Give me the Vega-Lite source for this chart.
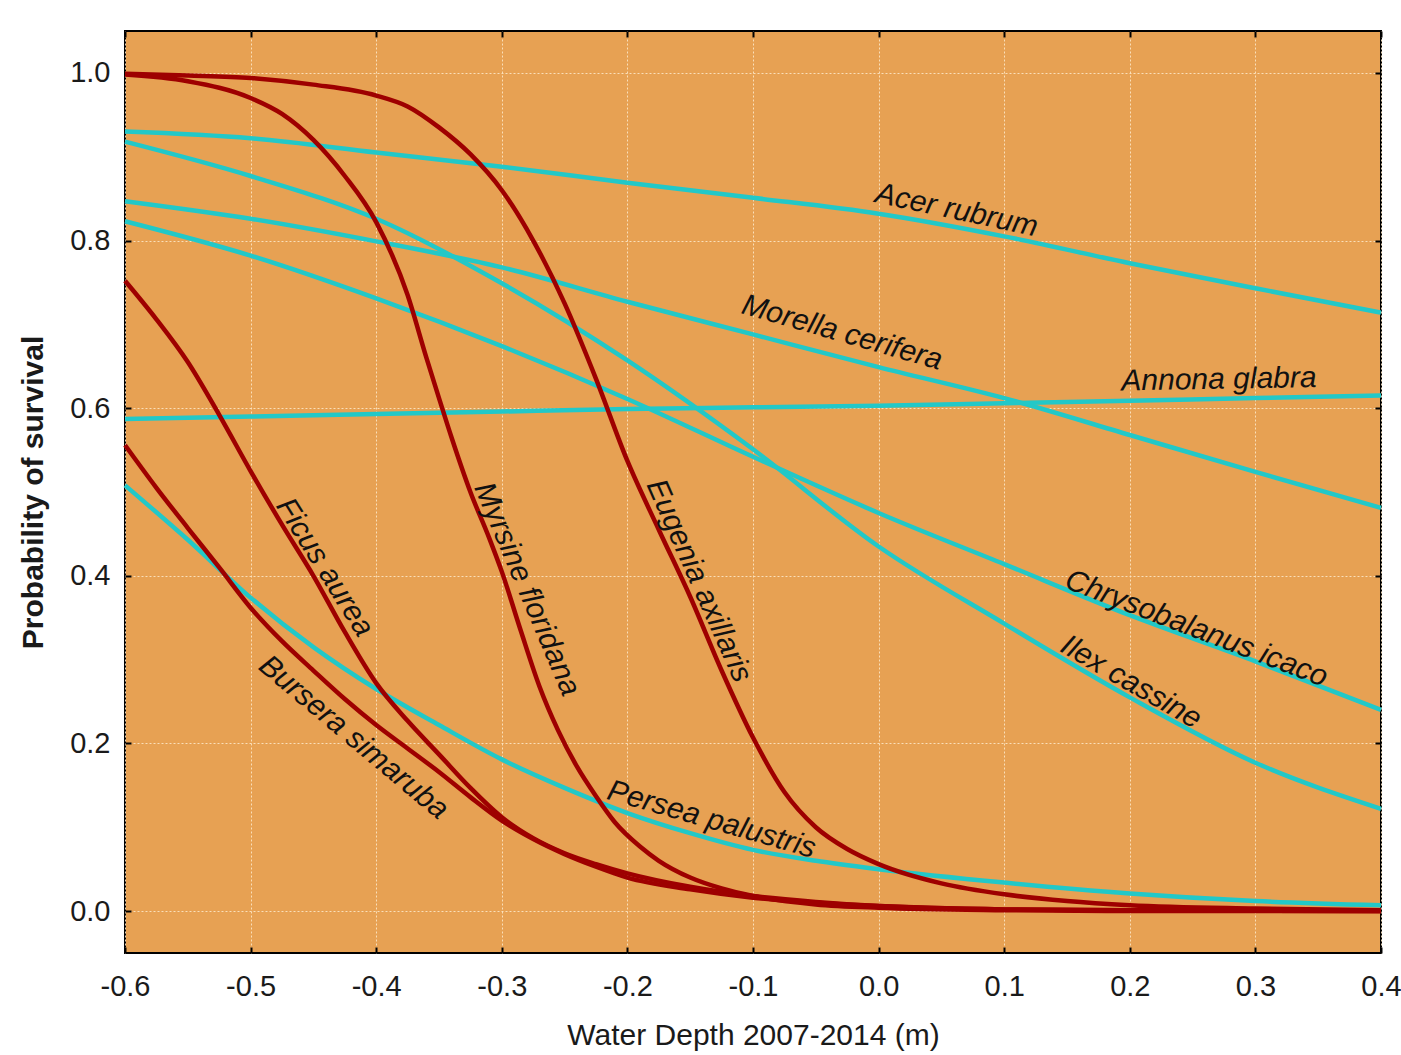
{
  "$schema": "https://vega.github.io/schema/vega-lite/v6.json",
  "width": 1256,
  "height": 922,
  "autosize": "none",
  "padding": {"left": 125, "top": 31, "right": 20, "bottom": 102},
  "background": "white",
  "config": {
    "view": {"fill": "#E7A153", "stroke": "#000000", "strokeWidth": 2},
    "font": "Liberation Sans"
  },
  "datasets": {
    "curves": [
      {"species": "Acer rubrum", "depth": -0.6, "p": 0.930},
      {"species": "Acer rubrum", "depth": -0.5, "p": 0.922},
      {"species": "Acer rubrum", "depth": -0.4, "p": 0.905},
      {"species": "Acer rubrum", "depth": -0.3, "p": 0.888},
      {"species": "Acer rubrum", "depth": -0.2, "p": 0.869},
      {"species": "Acer rubrum", "depth": -0.1, "p": 0.851},
      {"species": "Acer rubrum", "depth": 0.0, "p": 0.832},
      {"species": "Acer rubrum", "depth": 0.1, "p": 0.805},
      {"species": "Acer rubrum", "depth": 0.2, "p": 0.773},
      {"species": "Acer rubrum", "depth": 0.3, "p": 0.743},
      {"species": "Acer rubrum", "depth": 0.4, "p": 0.714},

      {"species": "Morella cerifera", "depth": -0.6, "p": 0.847},
      {"species": "Morella cerifera", "depth": -0.5, "p": 0.826},
      {"species": "Morella cerifera", "depth": -0.4, "p": 0.799},
      {"species": "Morella cerifera", "depth": -0.3, "p": 0.768},
      {"species": "Morella cerifera", "depth": -0.2, "p": 0.727},
      {"species": "Morella cerifera", "depth": -0.1, "p": 0.688},
      {"species": "Morella cerifera", "depth": 0.0, "p": 0.649},
      {"species": "Morella cerifera", "depth": 0.1, "p": 0.612},
      {"species": "Morella cerifera", "depth": 0.2, "p": 0.568},
      {"species": "Morella cerifera", "depth": 0.3, "p": 0.524},
      {"species": "Morella cerifera", "depth": 0.4, "p": 0.481},

      {"species": "Annona glabra", "depth": -0.6, "p": 0.587},
      {"species": "Annona glabra", "depth": -0.5, "p": 0.590},
      {"species": "Annona glabra", "depth": -0.4, "p": 0.593},
      {"species": "Annona glabra", "depth": -0.3, "p": 0.596},
      {"species": "Annona glabra", "depth": -0.2, "p": 0.599},
      {"species": "Annona glabra", "depth": -0.1, "p": 0.601},
      {"species": "Annona glabra", "depth": 0.0, "p": 0.603},
      {"species": "Annona glabra", "depth": 0.1, "p": 0.606},
      {"species": "Annona glabra", "depth": 0.2, "p": 0.609},
      {"species": "Annona glabra", "depth": 0.3, "p": 0.612},
      {"species": "Annona glabra", "depth": 0.4, "p": 0.615},

      {"species": "Chrysobalanus icaco", "depth": -0.6, "p": 0.823},
      {"species": "Chrysobalanus icaco", "depth": -0.5, "p": 0.782},
      {"species": "Chrysobalanus icaco", "depth": -0.4, "p": 0.731},
      {"species": "Chrysobalanus icaco", "depth": -0.3, "p": 0.674},
      {"species": "Chrysobalanus icaco", "depth": -0.2, "p": 0.611},
      {"species": "Chrysobalanus icaco", "depth": -0.1, "p": 0.542},
      {"species": "Chrysobalanus icaco", "depth": 0.0, "p": 0.475},
      {"species": "Chrysobalanus icaco", "depth": 0.1, "p": 0.414},
      {"species": "Chrysobalanus icaco", "depth": 0.2, "p": 0.353},
      {"species": "Chrysobalanus icaco", "depth": 0.3, "p": 0.298},
      {"species": "Chrysobalanus icaco", "depth": 0.4, "p": 0.240},

      {"species": "Ilex cassine", "depth": -0.6, "p": 0.918},
      {"species": "Ilex cassine", "depth": -0.5, "p": 0.877},
      {"species": "Ilex cassine", "depth": -0.4, "p": 0.826},
      {"species": "Ilex cassine", "depth": -0.3, "p": 0.749},
      {"species": "Ilex cassine", "depth": -0.2, "p": 0.657},
      {"species": "Ilex cassine", "depth": -0.1, "p": 0.551},
      {"species": "Ilex cassine", "depth": 0.0, "p": 0.435},
      {"species": "Ilex cassine", "depth": 0.1, "p": 0.343},
      {"species": "Ilex cassine", "depth": 0.2, "p": 0.255},
      {"species": "Ilex cassine", "depth": 0.3, "p": 0.177},
      {"species": "Ilex cassine", "depth": 0.4, "p": 0.122},

      {"species": "Persea palustris", "depth": -0.6, "p": 0.508},
      {"species": "Persea palustris", "depth": -0.55, "p": 0.443},
      {"species": "Persea palustris", "depth": -0.5, "p": 0.374},
      {"species": "Persea palustris", "depth": -0.45, "p": 0.315},
      {"species": "Persea palustris", "depth": -0.4, "p": 0.265},
      {"species": "Persea palustris", "depth": -0.35, "p": 0.222},
      {"species": "Persea palustris", "depth": -0.3, "p": 0.181},
      {"species": "Persea palustris", "depth": -0.25, "p": 0.147},
      {"species": "Persea palustris", "depth": -0.2, "p": 0.117},
      {"species": "Persea palustris", "depth": -0.15, "p": 0.093},
      {"species": "Persea palustris", "depth": -0.1, "p": 0.073},
      {"species": "Persea palustris", "depth": -0.05, "p": 0.060},
      {"species": "Persea palustris", "depth": 0.0, "p": 0.050},
      {"species": "Persea palustris", "depth": 0.1, "p": 0.034},
      {"species": "Persea palustris", "depth": 0.2, "p": 0.021},
      {"species": "Persea palustris", "depth": 0.3, "p": 0.012},
      {"species": "Persea palustris", "depth": 0.4, "p": 0.007},

      {"species": "Eugenia axillaris", "depth": -0.6, "p": 0.999},
      {"species": "Eugenia axillaris", "depth": -0.55, "p": 0.997},
      {"species": "Eugenia axillaris", "depth": -0.5, "p": 0.994},
      {"species": "Eugenia axillaris", "depth": -0.45, "p": 0.986},
      {"species": "Eugenia axillaris", "depth": -0.4, "p": 0.973},
      {"species": "Eugenia axillaris", "depth": -0.375, "p": 0.960},
      {"species": "Eugenia axillaris", "depth": -0.35, "p": 0.935},
      {"species": "Eugenia axillaris", "depth": -0.325, "p": 0.903},
      {"species": "Eugenia axillaris", "depth": -0.3, "p": 0.860},
      {"species": "Eugenia axillaris", "depth": -0.275, "p": 0.800},
      {"species": "Eugenia axillaris", "depth": -0.25, "p": 0.725},
      {"species": "Eugenia axillaris", "depth": -0.225, "p": 0.635},
      {"species": "Eugenia axillaris", "depth": -0.2, "p": 0.537},
      {"species": "Eugenia axillaris", "depth": -0.175, "p": 0.455},
      {"species": "Eugenia axillaris", "depth": -0.15, "p": 0.375},
      {"species": "Eugenia axillaris", "depth": -0.125, "p": 0.287},
      {"species": "Eugenia axillaris", "depth": -0.1, "p": 0.207},
      {"species": "Eugenia axillaris", "depth": -0.075, "p": 0.142},
      {"species": "Eugenia axillaris", "depth": -0.05, "p": 0.100},
      {"species": "Eugenia axillaris", "depth": -0.025, "p": 0.074},
      {"species": "Eugenia axillaris", "depth": 0.0, "p": 0.056},
      {"species": "Eugenia axillaris", "depth": 0.05, "p": 0.033},
      {"species": "Eugenia axillaris", "depth": 0.1, "p": 0.020},
      {"species": "Eugenia axillaris", "depth": 0.15, "p": 0.012},
      {"species": "Eugenia axillaris", "depth": 0.2, "p": 0.007},
      {"species": "Eugenia axillaris", "depth": 0.3, "p": 0.003},
      {"species": "Eugenia axillaris", "depth": 0.4, "p": 0.001},

      {"species": "Myrsine floridana", "depth": -0.6, "p": 0.998},
      {"species": "Myrsine floridana", "depth": -0.55, "p": 0.990},
      {"species": "Myrsine floridana", "depth": -0.5, "p": 0.970},
      {"species": "Myrsine floridana", "depth": -0.475, "p": 0.951},
      {"species": "Myrsine floridana", "depth": -0.45, "p": 0.920},
      {"species": "Myrsine floridana", "depth": -0.425, "p": 0.877},
      {"species": "Myrsine floridana", "depth": -0.4, "p": 0.822},
      {"species": "Myrsine floridana", "depth": -0.375, "p": 0.735},
      {"species": "Myrsine floridana", "depth": -0.36, "p": 0.660},
      {"species": "Myrsine floridana", "depth": -0.35, "p": 0.612},
      {"species": "Myrsine floridana", "depth": -0.34, "p": 0.565},
      {"species": "Myrsine floridana", "depth": -0.325, "p": 0.500},
      {"species": "Myrsine floridana", "depth": -0.31, "p": 0.445},
      {"species": "Myrsine floridana", "depth": -0.3, "p": 0.405},
      {"species": "Myrsine floridana", "depth": -0.285, "p": 0.335},
      {"species": "Myrsine floridana", "depth": -0.27, "p": 0.268},
      {"species": "Myrsine floridana", "depth": -0.255, "p": 0.215},
      {"species": "Myrsine floridana", "depth": -0.24, "p": 0.172},
      {"species": "Myrsine floridana", "depth": -0.225, "p": 0.137},
      {"species": "Myrsine floridana", "depth": -0.21, "p": 0.106},
      {"species": "Myrsine floridana", "depth": -0.19, "p": 0.077},
      {"species": "Myrsine floridana", "depth": -0.175, "p": 0.060},
      {"species": "Myrsine floridana", "depth": -0.15, "p": 0.040},
      {"species": "Myrsine floridana", "depth": -0.125, "p": 0.027},
      {"species": "Myrsine floridana", "depth": -0.1, "p": 0.018},
      {"species": "Myrsine floridana", "depth": -0.05, "p": 0.008},
      {"species": "Myrsine floridana", "depth": 0.0, "p": 0.004},
      {"species": "Myrsine floridana", "depth": 0.1, "p": 0.001},
      {"species": "Myrsine floridana", "depth": 0.2, "p": 0.0},
      {"species": "Myrsine floridana", "depth": 0.4, "p": 0.0},

      {"species": "Ficus aurea", "depth": -0.6, "p": 0.752},
      {"species": "Ficus aurea", "depth": -0.575, "p": 0.706},
      {"species": "Ficus aurea", "depth": -0.55, "p": 0.655},
      {"species": "Ficus aurea", "depth": -0.525, "p": 0.592},
      {"species": "Ficus aurea", "depth": -0.5, "p": 0.525},
      {"species": "Ficus aurea", "depth": -0.475, "p": 0.461},
      {"species": "Ficus aurea", "depth": -0.45, "p": 0.400},
      {"species": "Ficus aurea", "depth": -0.425, "p": 0.333},
      {"species": "Ficus aurea", "depth": -0.4, "p": 0.272},
      {"species": "Ficus aurea", "depth": -0.375, "p": 0.227},
      {"species": "Ficus aurea", "depth": -0.35, "p": 0.187},
      {"species": "Ficus aurea", "depth": -0.325, "p": 0.147},
      {"species": "Ficus aurea", "depth": -0.3, "p": 0.112},
      {"species": "Ficus aurea", "depth": -0.275, "p": 0.087},
      {"species": "Ficus aurea", "depth": -0.25, "p": 0.069},
      {"species": "Ficus aurea", "depth": -0.225, "p": 0.056},
      {"species": "Ficus aurea", "depth": -0.2, "p": 0.045},
      {"species": "Ficus aurea", "depth": -0.15, "p": 0.029},
      {"species": "Ficus aurea", "depth": -0.1, "p": 0.018},
      {"species": "Ficus aurea", "depth": -0.05, "p": 0.011},
      {"species": "Ficus aurea", "depth": 0.0, "p": 0.006},
      {"species": "Ficus aurea", "depth": 0.1, "p": 0.002},
      {"species": "Ficus aurea", "depth": 0.2, "p": 0.001},
      {"species": "Ficus aurea", "depth": 0.4, "p": 0.0},

      {"species": "Bursera simaruba", "depth": -0.6, "p": 0.556},
      {"species": "Bursera simaruba", "depth": -0.575, "p": 0.505},
      {"species": "Bursera simaruba", "depth": -0.55, "p": 0.457},
      {"species": "Bursera simaruba", "depth": -0.525, "p": 0.410},
      {"species": "Bursera simaruba", "depth": -0.5, "p": 0.362},
      {"species": "Bursera simaruba", "depth": -0.475, "p": 0.322},
      {"species": "Bursera simaruba", "depth": -0.45, "p": 0.287},
      {"species": "Bursera simaruba", "depth": -0.425, "p": 0.253},
      {"species": "Bursera simaruba", "depth": -0.4, "p": 0.222},
      {"species": "Bursera simaruba", "depth": -0.375, "p": 0.194},
      {"species": "Bursera simaruba", "depth": -0.35, "p": 0.166},
      {"species": "Bursera simaruba", "depth": -0.325, "p": 0.136},
      {"species": "Bursera simaruba", "depth": -0.3, "p": 0.108},
      {"species": "Bursera simaruba", "depth": -0.275, "p": 0.086},
      {"species": "Bursera simaruba", "depth": -0.25, "p": 0.068},
      {"species": "Bursera simaruba", "depth": -0.225, "p": 0.053},
      {"species": "Bursera simaruba", "depth": -0.2, "p": 0.040},
      {"species": "Bursera simaruba", "depth": -0.15, "p": 0.026},
      {"species": "Bursera simaruba", "depth": -0.1, "p": 0.016},
      {"species": "Bursera simaruba", "depth": -0.05, "p": 0.010},
      {"species": "Bursera simaruba", "depth": 0.0, "p": 0.006},
      {"species": "Bursera simaruba", "depth": 0.1, "p": 0.002},
      {"species": "Bursera simaruba", "depth": 0.2, "p": 0.001},
      {"species": "Bursera simaruba", "depth": 0.4, "p": 0.0}
    ],
    "labels": [
      {"species": "Acer rubrum", "depth": 0.062, "p": 0.836},
      {"species": "Morella cerifera", "depth": -0.029, "p": 0.690},
      {"species": "Annona glabra", "depth": 0.271, "p": 0.634},
      {"species": "Chrysobalanus icaco", "depth": 0.253, "p": 0.337},
      {"species": "Ilex cassine", "depth": 0.201, "p": 0.273},
      {"species": "Persea palustris", "depth": -0.133, "p": 0.109},
      {"species": "Eugenia axillaris", "depth": -0.143, "p": 0.394},
      {"species": "Myrsine floridana", "depth": -0.280, "p": 0.384},
      {"species": "Ficus aurea", "depth": -0.441, "p": 0.410},
      {"species": "Bursera simaruba", "depth": -0.418, "p": 0.207}
    ]
  },
  "resolve": {"axis": {"x": "independent", "y": "independent"}},
  "layer": [
    {
      "data": {"name": "curves"},
      "mark": {"type": "line", "interpolate": "monotone", "strokeWidth": 4.5},
      "encoding": {
        "x": {
          "field": "depth", "type": "quantitative",
          "scale": {"domain": [-0.6, 0.4], "nice": false, "zero": false},
          "axis": {
            "orient": "bottom",
            "values": [-0.6, -0.5, -0.4, -0.3, -0.2, -0.1, 0, 0.1, 0.2, 0.3, 0.4],
            "labelExpr": "datum.value < -0.00001 ? '-' + format(-datum.value, '.1f') : format(datum.value, '.1f')",
            "title": "Water Depth 2007-2014 (m)",
            "titleFontSize": 30, "titleFontWeight": "normal", "titleColor": "#1a1a1a",
            "titleBaseline": "alphabetic", "titleY": 91,
            "labelFontSize": 29, "labelColor": "#1a1a1a", "labelBaseline": "alphabetic",
            "labelPadding": 48, "labelFlush": false, "labelOverlap": false,
            "tickSize": -6, "tickWidth": 2, "tickColor": "#000000",
            "domain": false,
            "grid": true, "gridColor": "#FCE6C4", "gridDash": [2, 2], "gridWidth": 1, "gridOpacity": 0.9
          }
        },
        "y": {
          "field": "p", "type": "quantitative",
          "scale": {"domain": [-0.05, 1.05], "nice": false, "zero": false},
          "axis": {
            "orient": "left",
            "values": [0, 0.2, 0.4, 0.6, 0.8, 1.0],
            "format": ".1f",
            "title": "Probability of survival",
            "titleFontSize": 30, "titleFontWeight": "bold", "titleColor": "#1a1a1a",
            "titleBaseline": "alphabetic", "titleX": -83,
            "labelFontSize": 29, "labelColor": "#1a1a1a",
            "labelPadding": 21, "labelOverlap": false,
            "tickSize": -6, "tickWidth": 2, "tickColor": "#000000",
            "domain": false,
            "grid": true, "gridColor": "#FCE6C4", "gridDash": [2, 2], "gridWidth": 1, "gridOpacity": 0.9
          }
        },
        "color": {
          "field": "species", "type": "nominal", "legend": null,
          "scale": {
            "domain": ["Eugenia axillaris", "Myrsine floridana", "Ficus aurea", "Bursera simaruba", "Acer rubrum", "Morella cerifera", "Annona glabra", "Chrysobalanus icaco", "Ilex cassine", "Persea palustris"],
            "range": ["#9E0000", "#9E0000", "#9E0000", "#9E0000", "#22C8C8", "#22C8C8", "#22C8C8", "#22C8C8", "#22C8C8", "#22C8C8"]
          }
        },
        "detail": {"field": "species"}
      }
    },
    {
      "data": {"name": "labels"},
      "encoding": {
        "x": {
          "field": "depth", "type": "quantitative",
          "scale": {"domain": [-0.6, 0.4], "nice": false, "zero": false},
          "axis": {
            "orient": "top",
            "values": [-0.6, -0.5, -0.4, -0.3, -0.2, -0.1, 0, 0.1, 0.2, 0.3, 0.4],
            "labels": false, "title": null, "grid": false, "domain": false,
            "tickSize": -6, "tickWidth": 2, "tickColor": "#000000"
          }
        },
        "y": {
          "field": "p", "type": "quantitative",
          "scale": {"domain": [-0.05, 1.05], "nice": false, "zero": false},
          "axis": {
            "orient": "right",
            "values": [0, 0.2, 0.4, 0.6, 0.8, 1.0],
            "labels": false, "title": null, "grid": false, "domain": false,
            "tickSize": -6, "tickWidth": 2, "tickColor": "#000000"
          }
        },
        "text": {"field": "species", "type": "nominal"}
      },
      "layer": [
        {"transform": [{"filter": "datum.species === 'Acer rubrum'"}],
         "mark": {"type": "text", "angle": 12, "fontSize": 30, "fontStyle": "italic", "color": "#111111", "align": "center", "baseline": "middle"}},
        {"transform": [{"filter": "datum.species === 'Morella cerifera'"}],
         "mark": {"type": "text", "angle": 16, "fontSize": 30, "fontStyle": "italic", "color": "#111111", "align": "center", "baseline": "middle"}},
        {"transform": [{"filter": "datum.species === 'Annona glabra'"}],
         "mark": {"type": "text", "angle": -1, "fontSize": 30, "fontStyle": "italic", "color": "#111111", "align": "center", "baseline": "middle"}},
        {"transform": [{"filter": "datum.species === 'Chrysobalanus icaco'"}],
         "mark": {"type": "text", "angle": 21, "fontSize": 30, "fontStyle": "italic", "color": "#111111", "align": "center", "baseline": "middle"}},
        {"transform": [{"filter": "datum.species === 'Ilex cassine'"}],
         "mark": {"type": "text", "angle": 30, "fontSize": 30, "fontStyle": "italic", "color": "#111111", "align": "center", "baseline": "middle"}},
        {"transform": [{"filter": "datum.species === 'Persea palustris'"}],
         "mark": {"type": "text", "angle": 16, "fontSize": 30, "fontStyle": "italic", "color": "#111111", "align": "center", "baseline": "middle"}},
        {"transform": [{"filter": "datum.species === 'Eugenia axillaris'"}],
         "mark": {"type": "text", "angle": 66, "fontSize": 30, "fontStyle": "italic", "color": "#111111", "align": "center", "baseline": "middle"}},
        {"transform": [{"filter": "datum.species === 'Myrsine floridana'"}],
         "mark": {"type": "text", "angle": 67, "fontSize": 30, "fontStyle": "italic", "color": "#111111", "align": "center", "baseline": "middle"}},
        {"transform": [{"filter": "datum.species === 'Ficus aurea'"}],
         "mark": {"type": "text", "angle": 58, "fontSize": 30, "fontStyle": "italic", "color": "#111111", "align": "center", "baseline": "middle"}},
        {"transform": [{"filter": "datum.species === 'Bursera simaruba'"}],
         "mark": {"type": "text", "angle": 40, "fontSize": 30, "fontStyle": "italic", "color": "#111111", "align": "center", "baseline": "middle"}}
      ]
    }
  ]
}
